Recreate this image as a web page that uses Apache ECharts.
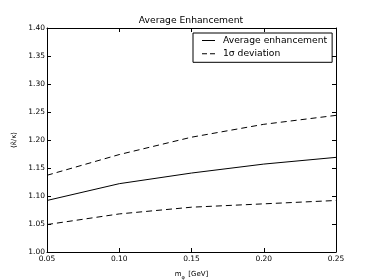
<!DOCTYPE html>
<html>
<head>
<meta charset="utf-8">
<script src="https://cdn.jsdelivr.net/npm/echarts@6/dist/echarts.min.js"></script>
<style>html,body{margin:0;padding:0;background:#fff}#c{width:374px;height:280px}</style>
</head>
<body>
<div id="c"></div>
<script>
var mass = [0.05, 0.10, 0.15, 0.20, 0.25];
var avgEnh = [1.092, 1.122, 1.141, 1.157, 1.169];
var upperDev = [1.137, 1.174, 1.205, 1.228, 1.244];
var lowerDev = [1.049, 1.068, 1.080, 1.086, 1.092];
var xTicks = [0.05, 0.10, 0.15, 0.20, 0.25];
var yTicks = [1.00, 1.05, 1.10, 1.15, 1.20, 1.25, 1.30, 1.35, 1.40];

function pairs(xs, ys) { return xs.map(function (x, i) { return [x, ys[i]]; }); }

var font = 'DejaVu Sans';
var chart = echarts.init(document.getElementById('c'), null, {renderer: 'canvas'});
var axisCommon = {
  axisLine: {show: true, onZero: false, lineStyle: {color: '#000', width: 1}},
  axisTick: {show: true, inside: true, length: 4, lineStyle: {color: '#000'}},
  splitLine: {show: false}
};
chart.setOption({
  animation: false,
  title: {
    text: 'Average Enhancement', left: 191, top: 16, padding: 0, textAlign: 'center',
    textStyle: {fontFamily: font, fontSize: 9.2, fontWeight: 'normal', color: '#000'}
  },
  legend: {
    left: 193, top: 33, orient: 'vertical',
    data: [
      {name: 'Average enhancement', icon: 'path://M0,0H13V1H0Z'},
      {name: '1σ deviation', icon: 'path://M0,0H5V1H0Z M8,0H13V1H8Z'}
    ],
    borderColor: '#000', borderWidth: 1, borderRadius: 0,
    padding: [2, 5, 3, 9], itemGap: 2.3, itemWidth: 13, itemHeight: 1.2,
    textStyle: {fontFamily: font, fontSize: 9.2, lineHeight: 11, color: '#000', padding: [0, 0, 0, 3]}
  },
  grid: {left: 47, right: 38, top: 28, bottom: 28, outerBoundsMode: 'none', containLabel: false},
  xAxis: [
    Object.assign({}, axisCommon, {
      type: 'value', min: 0.05, max: 0.25, interval: 0.05, position: 'bottom',
      name: '{m|m}{s|φ} {m|[GeV]}', nameLocation: 'middle', nameGap: 14,
      nameTextStyle: {rich: {m: {fontFamily: font, fontSize: 7, color: '#000'}, s: {fontFamily: font, fontSize: 5, color: '#000', verticalAlign: 'bottom', padding: [3, 0, 0, 0]}}},
      axisLabel: {fontFamily: font, fontSize: 7.5, color: '#000', margin: 3,
        formatter: function (v) { return v.toFixed(2); }}
    }),
    Object.assign({}, axisCommon, {
      type: 'value', min: 0.05, max: 0.25, interval: 0.05, position: 'top',
      axisLabel: {show: false}
    })
  ],
  yAxis: [
    Object.assign({}, axisCommon, {
      type: 'value', min: 1.0, max: 1.4, interval: 0.05, position: 'left',
      name: '⟨κ̃/κ⟩', nameLocation: 'middle', nameGap: 22, nameRotate: 90,
      nameTextStyle: {fontFamily: font, fontSize: 7, color: '#000'},
      axisLabel: {fontFamily: font, fontSize: 7.5, color: '#000', margin: 2,
        formatter: function (v) { return v.toFixed(2); }}
    }),
    Object.assign({}, axisCommon, {
      type: 'value', min: 1.0, max: 1.4, interval: 0.05, position: 'right',
      axisLabel: {show: false}
    })
  ],
  series: [
    {name: 'Average enhancement', type: 'line', data: pairs(mass, avgEnh), smooth: false,
      showSymbol: false, symbol: 'none', lineStyle: {color: '#000', width: 1}, itemStyle: {color: '#000'}},
    {name: '1σ deviation', type: 'line', data: pairs(mass, upperDev), smooth: false,
      showSymbol: false, symbol: 'none', lineStyle: {color: '#000', width: 1, type: [6, 4]}, itemStyle: {color: '#000'}},
    {name: '1σ deviation', type: 'line', data: pairs(mass, lowerDev), smooth: false,
      showSymbol: false, symbol: 'none', lineStyle: {color: '#000', width: 1, type: [6, 4]}, itemStyle: {color: '#000'}}
  ]
});
</script>
</body>
</html>
